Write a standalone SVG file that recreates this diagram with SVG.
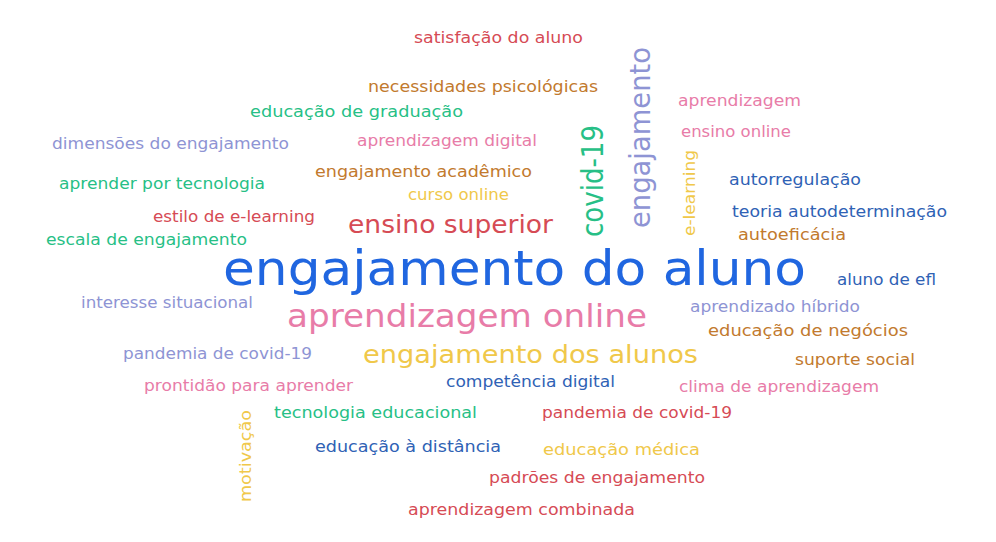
<svg xmlns="http://www.w3.org/2000/svg" width="996" height="542" viewBox="0 0 996 542">
<style>
text{font-family:"DejaVu Sans","Liberation Sans",sans-serif;font-size:15px}
.r{fill:#d64b55}.b{fill:#c27a2e}.g{fill:#27bf86}.l{fill:#8e94d4}.p{fill:#e87ca8}.y{fill:#f0c84a}.B{fill:#2066e0}.d{fill:#2f62b5}
</style>
<rect width="996" height="542" fill="#ffffff"/>
<text class="r" x="414" y="43" textLength="169" lengthAdjust="spacingAndGlyphs">satisfação do aluno</text>
<text class="b" x="368" y="92" textLength="230" lengthAdjust="spacingAndGlyphs">necessidades psicológicas</text>
<text class="g" x="250" y="117" textLength="213" lengthAdjust="spacingAndGlyphs">educação de graduação</text>
<text class="l" x="52" y="149" textLength="237" lengthAdjust="spacingAndGlyphs">dimensões do engajamento</text>
<text class="p" x="357" y="146" textLength="180" lengthAdjust="spacingAndGlyphs">aprendizagem digital</text>
<text class="b" x="315" y="177" textLength="217" lengthAdjust="spacingAndGlyphs">engajamento acadêmico</text>
<text class="y" x="408" y="200" textLength="101" lengthAdjust="spacingAndGlyphs">curso online</text>
<text class="g" x="59" y="189" textLength="206" lengthAdjust="spacingAndGlyphs">aprender por tecnologia</text>
<text class="r" x="153" y="222" textLength="162" lengthAdjust="spacingAndGlyphs">estilo de e-learning</text>
<text class="g" x="46" y="245" textLength="201" lengthAdjust="spacingAndGlyphs">escala de engajamento</text>
<text class="r" x="348" y="233" style="font-size:24px" textLength="205" lengthAdjust="spacingAndGlyphs">ensino superior</text>
<text class="g" transform="translate(603,237) rotate(-90)" style="font-size:31px" textLength="112" lengthAdjust="spacingAndGlyphs">covid-19</text>
<text class="l" transform="translate(650,228) rotate(-90)" style="font-size:29px" textLength="181" lengthAdjust="spacingAndGlyphs">engajamento</text>
<text class="y" transform="translate(695,236) rotate(-90)" textLength="86" lengthAdjust="spacingAndGlyphs">e-learning</text>
<text class="p" x="678" y="106" textLength="123" lengthAdjust="spacingAndGlyphs">aprendizagem</text>
<text class="p" x="681" y="137" textLength="110" lengthAdjust="spacingAndGlyphs">ensino online</text>
<text class="d" x="729" y="185" textLength="132" lengthAdjust="spacingAndGlyphs">autorregulação</text>
<text class="d" x="732" y="217" textLength="215" lengthAdjust="spacingAndGlyphs">teoria autodeterminação</text>
<text class="b" x="738" y="240" textLength="108" lengthAdjust="spacingAndGlyphs">autoeficácia</text>
<text class="B" x="223" y="285" style="font-size:48px" textLength="583" lengthAdjust="spacingAndGlyphs">engajamento do aluno</text>
<text class="d" x="837" y="285" textLength="99" lengthAdjust="spacingAndGlyphs">aluno de efl</text>
<text class="l" x="81" y="308" textLength="172" lengthAdjust="spacingAndGlyphs">interesse situacional</text>
<text class="p" x="287" y="327" style="font-size:32px" textLength="360" lengthAdjust="spacingAndGlyphs">aprendizagem online</text>
<text class="l" x="690" y="312" textLength="170" lengthAdjust="spacingAndGlyphs">aprendizado híbrido</text>
<text class="b" x="708" y="336" textLength="200" lengthAdjust="spacingAndGlyphs">educação de negócios</text>
<text class="l" x="123" y="359" textLength="189" lengthAdjust="spacingAndGlyphs">pandemia de covid-19</text>
<text class="y" x="363" y="363" style="font-size:25px" textLength="335" lengthAdjust="spacingAndGlyphs">engajamento dos alunos</text>
<text class="b" x="795" y="365" textLength="120" lengthAdjust="spacingAndGlyphs">suporte social</text>
<text class="p" x="144" y="391" textLength="209" lengthAdjust="spacingAndGlyphs">prontidão para aprender</text>
<text class="d" x="446" y="387" textLength="169" lengthAdjust="spacingAndGlyphs">competência digital</text>
<text class="p" x="679" y="392" textLength="200" lengthAdjust="spacingAndGlyphs">clima de aprendizagem</text>
<text class="g" x="274" y="418" textLength="203" lengthAdjust="spacingAndGlyphs">tecnologia educacional</text>
<text class="r" x="542" y="418" textLength="190" lengthAdjust="spacingAndGlyphs">pandemia de covid-19</text>
<text class="y" transform="translate(251,502) rotate(-90)" textLength="92" lengthAdjust="spacingAndGlyphs">motivação</text>
<text class="d" x="315" y="452" textLength="186" lengthAdjust="spacingAndGlyphs">educação à distância</text>
<text class="y" x="543" y="455" textLength="157" lengthAdjust="spacingAndGlyphs">educação médica</text>
<text class="r" x="489" y="483" textLength="216" lengthAdjust="spacingAndGlyphs">padrões de engajamento</text>
<text class="r" x="408" y="515" textLength="227" lengthAdjust="spacingAndGlyphs">aprendizagem combinada</text>
</svg>
